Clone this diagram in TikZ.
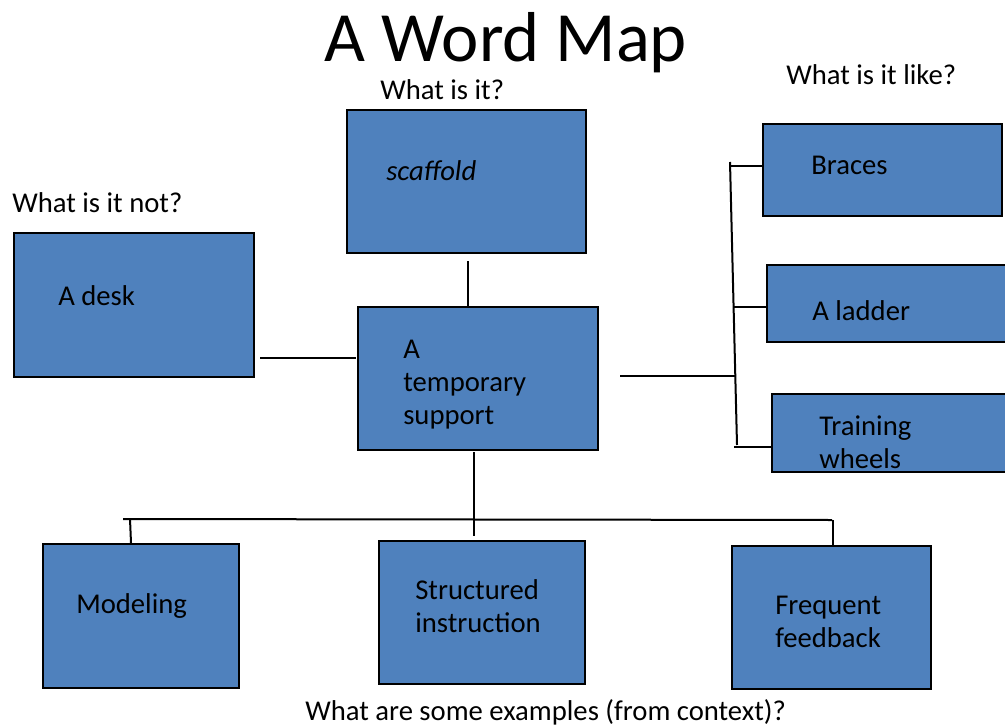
\documentclass[tikz,border=0pt]{standalone}
\usepackage{fontspec}
\setmainfont{Carlito}
\usetikzlibrary{fit}
\definecolor{boxblue}{HTML}{4F81BD}
\newcommand{\txtsize}{\fontsize{21.5}{24.75}\selectfont}
\newcommand{\mlines}[1]{\begin{tabular}[t]{@{}l@{}}#1\end{tabular}}
\tikzset{
  box/.style={draw=black, line width=1.5pt, fill=boxblue, inner sep=0pt},
  lbl/.style={anchor=base west, inner sep=0pt, font=\txtsize, text=black},
  conn/.style={draw=black, line width=1.5pt},
}
\begin{document}
\begin{tikzpicture}[x=0.75pt, y=-0.75pt]
\useasboundingbox (0,0) rectangle (1005,727);
% boxes
\node[box, fit={(347,110) (586,253)}] (scaffold) {};
\node[box, fit={(14,233) (254,377)}] (desk) {};
\node[box, fit={(358,307) (598,450)}] (center) {};
\node[box, fit={(763,124) (1002,216)}] (braces) {};
\node[box, fit={(767,265) (1010,342)}] (ladder) {};
\node[box, fit={(772,394) (1010,472)}] (wheels) {};
\node[box, fit={(43,544) (239,688)}] (modeling) {};
\node[box, fit={(379,541) (585,684)}] (structured) {};
\node[box, fit={(732,546) (931,689)}] (frequent) {};
% headings
\node[anchor=base, inner sep=0pt, font=\fontsize{53}{60}\selectfont] (title) at (506,62) {A Word Map};
\node[lbl] (q1) at (380,100) {What is it?};
\node[lbl] (q2) at (786,85) {What is it like?};
\node[lbl] (q3) at (12,213) {What is it not?};
\node[lbl] (q4) at (305,720) {What are some examples (from context)?};
% box texts
\node[lbl] (t1) at (386,181) {\itshape scaffold};
\node[lbl] (t2) at (58,305) {A desk};
\node[lbl] (t3) at (403,358) {\mlines{A\\temporary\\support}};
\node[lbl] (t4) at (811,175) {Braces};
\node[lbl] (t5) at (812,320) {A ladder};
\node[lbl] (t6) at (819,435) {\mlines{Training\\wheels}};
\node[lbl] (t7) at (76,613) {Modeling};
\node[lbl] (t8) at (415,599) {\mlines{Structured\\instruction}};
\node[lbl] (t9) at (775,614) {\mlines{Frequent\\feedback}};
% connector coordinates
\coordinate (sc1) at (468,260);
\coordinate (sc2) at (468,305);
\coordinate (dk1) at (260,358);
\coordinate (dk2) at (356,358);
\coordinate (cr1) at (620,376);
\coordinate (cr2) at (735,376);
\coordinate (vt) at (730,162);
\coordinate (vb) at (737,445);
\coordinate (bt1) at (730,166);
\coordinate (bt2) at (733,307);
\coordinate (bt3) at (734,447);
\coordinate (cb1) at (474,452);
\coordinate (cb2) at (474,536);
\coordinate (hl) at (123,519);
\coordinate (hr) at (832,520);
\coordinate (ml) at (130,519);
\coordinate (ml2) at (131,545);
\coordinate (fr) at (833,520);
\coordinate (fr2) at (833,548);
% connectors
\draw[conn] (scaffold.south -| sc1) ++(0,7) -- (center.north -| sc2);
\draw[conn] (dk1) -- (dk2);
\draw[conn] (cr1) -- (cr2);
\draw[conn] (vt) -- (vb);
\draw[conn] (bt1) -- (braces.west |- bt1);
\draw[conn] (bt2) -- (ladder.west |- bt2);
\draw[conn] (bt3) -- (wheels.west |- bt3);
\draw[conn] (cb1) -- (cb2);
\draw[conn] (hl) -- (hr);
\draw[conn] (ml) -- (modeling.north -| ml2);
\draw[conn] (fr) -- (frequent.north -| fr2);
\end{tikzpicture}
\end{document}
